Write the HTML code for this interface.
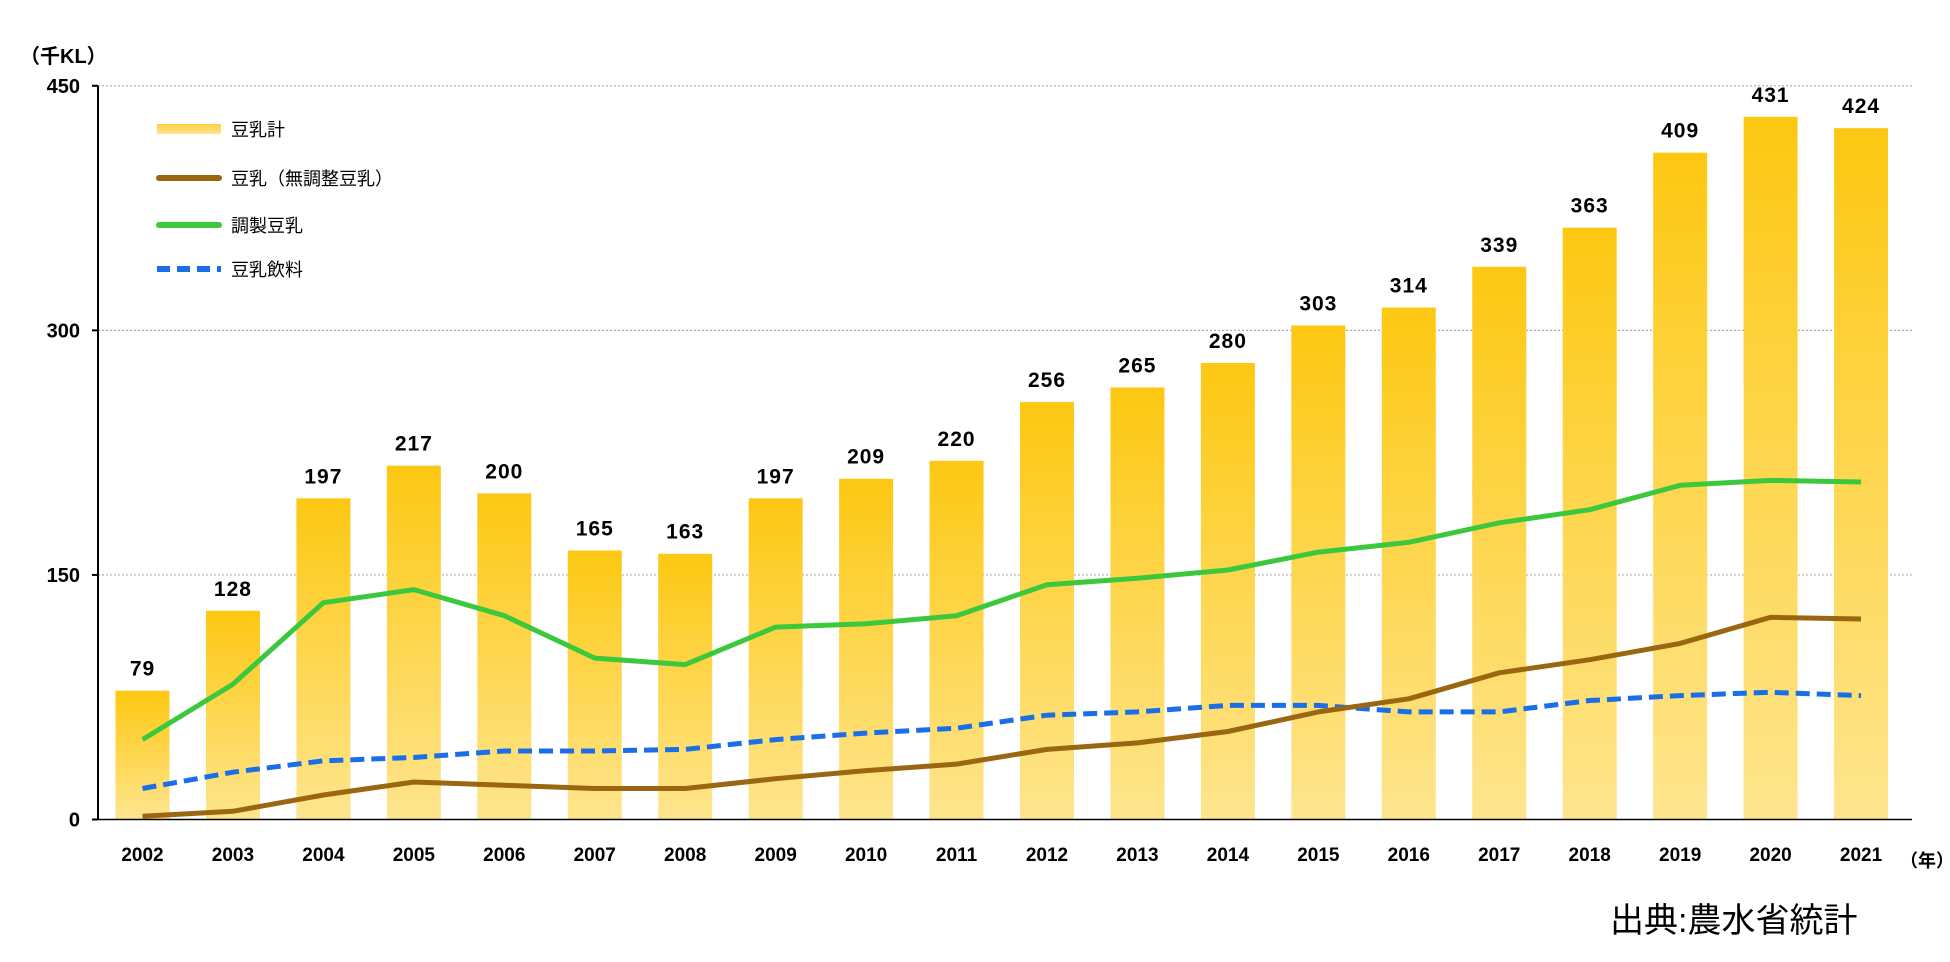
<!DOCTYPE html>
<html><head><meta charset="utf-8">
<style>
body{margin:0;background:#fff;}
svg text{font-family:"Liberation Sans","Noto Sans CJK JP",sans-serif;}
</style></head>
<body>
<svg id="chart" width="1950" height="957" viewBox="0 0 1950 957" xmlns="http://www.w3.org/2000/svg">
<defs>
<linearGradient id="barGrad" x1="0" y1="0" x2="0" y2="1">
<stop offset="0" stop-color="#fdc812"/>
<stop offset="1" stop-color="#fee58e"/>
</linearGradient>
<linearGradient id="legGrad" x1="0" y1="0" x2="0" y2="1">
<stop offset="0" stop-color="#fdd040"/>
<stop offset="1" stop-color="#fee690"/>
</linearGradient>
</defs>
<g id="grid"></g>
<g id="bars"></g>
<g id="lines"></g>
<g id="labels"></g>
<g id="axes"></g>
<text x="20" y="63" font-size="20" font-weight="bold">（千KL）</text>
<text x="1900" y="867" font-size="18" font-weight="bold">（年）</text>
<text x="1610" y="932" font-size="34">出典:農水省統計</text>
<g>
<g>
<rect x="157" y="124" width="64" height="10" fill="url(#legGrad)"/>
<text x="231" y="136" font-size="18">豆乳計</text></g>
<g>
<line x1="159" y1="178" x2="219" y2="178" stroke="#9a6710" stroke-width="6" stroke-linecap="round"/>
<text x="231" y="185" font-size="18">豆乳（無調整豆乳）</text></g>
<g>
<line x1="159" y1="225" x2="219" y2="225" stroke="#3cc83c" stroke-width="6" stroke-linecap="round"/>
<text x="231" y="232" font-size="18">調製豆乳</text></g>
<g>
<line x1="157" y1="269" x2="221" y2="269" stroke="#1a6fe8" stroke-width="6" stroke-dasharray="13,7"/>
<text x="231" y="276" font-size="18">豆乳飲料</text></g>
</g>
</svg>
<script>
const years=[2002,2003,2004,2005,2006,2007,2008,2009,2010,2011,2012,2013,2014,2015,2016,2017,2018,2019,2020,2021];
const totals=[79,128,197,217,200,165,163,197,209,220,256,265,280,303,314,339,363,409,431,424];
const plain=[2,5,15,23,21,19,19,25,30,34,43,47,54,66,74,90,98,108,124,123];
const prepared=[49,83,133,141,125,99,95,118,120,125,144,148,153,164,170,182,190,205,208,207];
const beverage=[19,29,36,38,42,42,43,49,53,56,64,66,70,70,66,66,73,76,78,76];
const yTicks=[0,150,300,450];
const NS="http://www.w3.org/2000/svg";
const x0=98,x1=1912,y0=819.5,yTop=85.8,yMax=450;
const xs=i=>142.5+i*90.45;
const ys=v=>y0-(v/yMax)*(y0-yTop);
function mk(tag,attrs,parent,text){const e=document.createElementNS(NS,tag);for(const k in attrs)e.setAttribute(k,attrs[k]);if(text!==undefined)e.textContent=text;parent.appendChild(e);return e;}
const grid=document.getElementById('grid'),bars=document.getElementById('bars'),lines=document.getElementById('lines'),labels=document.getElementById('labels'),axes=document.getElementById('axes');
yTicks.forEach(t=>{
  if(t>0){const g=mk('line',{x1:x0,x2:x1,y1:ys(t),y2:ys(t),stroke:'#aaa','stroke-width':1.2,'stroke-dasharray':'2,2'},grid);
  
  }
  const tk=mk('line',{x1:x0-6,x2:x0,y1:ys(t),y2:ys(t),stroke:'#000','stroke-width':2},axes);
  
  
  const lb=mk('text',{x:x0-18,y:ys(t)+7,'font-size':20,'font-weight':'bold','text-anchor':'end'},axes,t);
  
  
});
const ya=mk('line',{x1:x0,x2:x0,y1:yTop,y2:y0,stroke:'#000','stroke-width':2},axes);


const xa=mk('line',{x1:x0,x2:x1,y1:y0,y2:y0,stroke:'#000','stroke-width':1.5},axes);


years.forEach((yr,i)=>{
  const b=mk('rect',{x:xs(i)-27,y:ys(totals[i]),width:54,height:y0-ys(totals[i]),fill:'url(#barGrad)'},bars);
  
  
  const v=mk('text',{x:xs(i),y:ys(totals[i])-15,'font-size':21,'font-weight':'bold','text-anchor':'middle','letter-spacing':'1'},labels,totals[i]);
  
  
  const xl=mk('text',{x:xs(i),y:861,'font-size':19,'font-weight':'bold','text-anchor':'middle'},axes,yr);
  
  
});
function pts(arr){return arr.map((v,i)=>xs(i).toFixed(1)+','+ys(v).toFixed(1)).join(' ');}
const lp=mk('polyline',{points:pts(prepared),fill:'none',stroke:'#3cc83c','stroke-width':5,'stroke-linejoin':'round'},lines);


const lb2=mk('polyline',{points:pts(beverage),fill:'none',stroke:'#1a6fe8','stroke-width':5,'stroke-dasharray':'14,7'},lines);


const ln=mk('polyline',{points:pts(plain),fill:'none',stroke:'#9a6710','stroke-width':5,'stroke-linejoin':'round'},lines);


</script>
</body></html>
